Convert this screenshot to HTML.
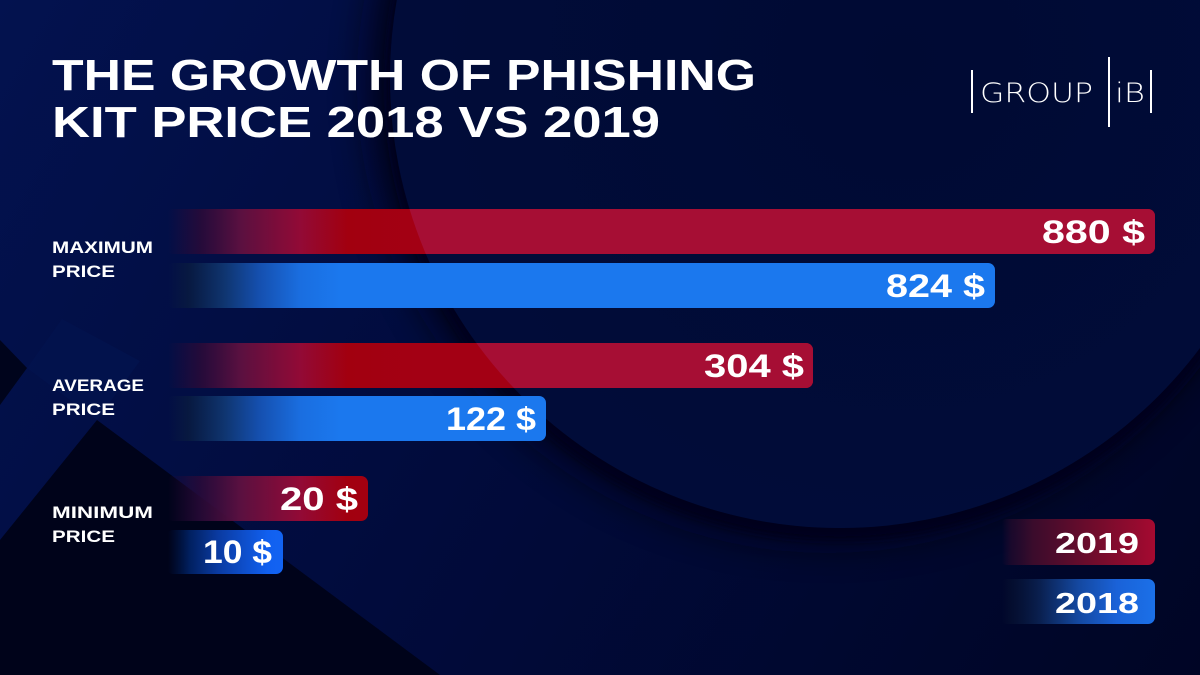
<!DOCTYPE html>
<html>
<head>
<meta charset="utf-8">
<style>
  html, body { margin: 0; padding: 0; background: #010a38; }
  body { width: 1200px; height: 675px; overflow: hidden; }
  svg { display: block; }
  .t { font-family: "Liberation Sans", "DejaVu Sans", sans-serif; font-weight: bold; fill: #ffffff; }
  .logo { font-family: "DejaVu Sans", "Liberation Sans", sans-serif; font-weight: 200; fill: #ffffff; }
</style>
</head>
<body>
<svg width="1200" height="675" viewBox="0 0 1200 675" xmlns="http://www.w3.org/2000/svg">
  <defs>
    <linearGradient id="bg" gradientUnits="userSpaceOnUse" x1="0" y1="0" x2="1200" y2="675">
      <stop offset="0" stop-color="#03124f"/>
      <stop offset="0.45" stop-color="#010b3c"/>
      <stop offset="1" stop-color="#000525"/>
    </linearGradient>
    <radialGradient id="cg" gradientUnits="userSpaceOnUse" cx="900" cy="60" r="470">
      <stop offset="0" stop-color="#000a33"/>
      <stop offset="1" stop-color="#010c39"/>
    </radialGradient>
    <filter id="b20" x="-30%" y="-30%" width="160%" height="160%">
      <feGaussianBlur stdDeviation="20"/>
    </filter>
    <filter id="b4" x="-10%" y="-10%" width="120%" height="120%">
      <feGaussianBlur stdDeviation="4"/>
    </filter>
    <clipPath id="circ"><circle cx="840" cy="78" r="450"/></clipPath>

    <linearGradient id="red" gradientUnits="userSpaceOnUse" x1="168" y1="0" x2="420" y2="0">
      <stop offset="0" stop-color="#2a0a38" stop-opacity="0"/>
      <stop offset="0.127" stop-color="#2a0a38" stop-opacity="0.85"/>
      <stop offset="0.286" stop-color="#5a1040"/>
      <stop offset="0.524" stop-color="#920a36"/>
      <stop offset="0.714" stop-color="#a2000f"/>
      <stop offset="1" stop-color="#a30014"/>
    </linearGradient>
    <linearGradient id="blue" gradientUnits="userSpaceOnUse" x1="168" y1="0" x2="340" y2="0">
      <stop offset="0" stop-color="#0a1a40" stop-opacity="0"/>
      <stop offset="0.12" stop-color="#081a40" stop-opacity="0.9"/>
      <stop offset="0.33" stop-color="#0f3570"/>
      <stop offset="0.535" stop-color="#1550b0"/>
      <stop offset="0.77" stop-color="#1a6ee0"/>
      <stop offset="1" stop-color="#1b78ee"/>
    </linearGradient>
    <linearGradient id="blueMin" gradientUnits="userSpaceOnUse" x1="168" y1="0" x2="283" y2="0">
      <stop offset="0" stop-color="#001a50" stop-opacity="0"/>
      <stop offset="0.19" stop-color="#012060"/>
      <stop offset="0.43" stop-color="#0a3aa0"/>
      <stop offset="0.87" stop-color="#1160f0"/>
      <stop offset="1" stop-color="#1263f2"/>
    </linearGradient>
    <linearGradient id="legRed" gradientUnits="userSpaceOnUse" x1="1002" y1="0" x2="1155" y2="0">
      <stop offset="0" stop-color="#2a0a30" stop-opacity="0"/>
      <stop offset="0.06" stop-color="#250a2c" stop-opacity="0.7"/>
      <stop offset="0.2" stop-color="#3a0c2c"/>
      <stop offset="0.6" stop-color="#700c2c"/>
      <stop offset="1" stop-color="#a50a30"/>
    </linearGradient>
    <linearGradient id="legBlue" gradientUnits="userSpaceOnUse" x1="1002" y1="0" x2="1155" y2="0">
      <stop offset="0" stop-color="#061030" stop-opacity="0"/>
      <stop offset="0.06" stop-color="#061030" stop-opacity="0.7"/>
      <stop offset="0.25" stop-color="#0a2050"/>
      <stop offset="0.5" stop-color="#1448a0"/>
      <stop offset="0.75" stop-color="#1a62d8"/>
      <stop offset="1" stop-color="#1b70e8"/>
    </linearGradient>
  </defs>

  <!-- background -->
  <rect x="0" y="0" width="1200" height="675" fill="url(#bg)"/>

  <!-- left decorative shapes -->
  <polygon points="62,319 140,361 97,420 27,368" fill="#031450" opacity="0.6"/>
  <polygon points="0,340 27,368 0,405" fill="#00041c"/>
  <polygon points="97,420 0,540 0,675 440,675" fill="#00031a"/>

  <!-- circle shadows -->
  <circle cx="828" cy="82" r="458" fill="#000215" filter="url(#b20)" opacity="0.9"/>
  <circle cx="840" cy="88" r="452" fill="#00041c" filter="url(#b4)"/>
  <!-- circle -->
  <circle cx="840" cy="78" r="450" fill="url(#cg)"/>

  <!-- title -->
  <text class="t" x="52" y="90" font-size="44" textLength="704" lengthAdjust="spacingAndGlyphs">THE GROWTH OF PHISHING</text>
  <text class="t" x="52" y="137" font-size="44" textLength="608" lengthAdjust="spacingAndGlyphs">KIT PRICE 2018 VS 2019</text>

  <!-- logo -->
  <rect x="971" y="70" width="2" height="43" fill="#ffffff"/>
  <rect x="1108" y="57" width="2" height="70" fill="#ffffff"/>
  <rect x="1150" y="70" width="2" height="43" fill="#ffffff"/>
  <text class="logo" x="980" y="102" font-size="27" textLength="113" lengthAdjust="spacingAndGlyphs">GROUP</text>
  <text class="logo" x="1115" y="102" font-size="27" textLength="30" lengthAdjust="spacingAndGlyphs">iB</text>

  <!-- category labels -->
  <text class="t" x="52" y="253" font-size="17" textLength="101" lengthAdjust="spacingAndGlyphs">MAXIMUM</text>
  <text class="t" x="52" y="277" font-size="17" textLength="63" lengthAdjust="spacingAndGlyphs">PRICE</text>
  <text class="t" x="52" y="391" font-size="17" textLength="92" lengthAdjust="spacingAndGlyphs">AVERAGE</text>
  <text class="t" x="52" y="415" font-size="17" textLength="63" lengthAdjust="spacingAndGlyphs">PRICE</text>
  <text class="t" x="52" y="518" font-size="17" textLength="101" lengthAdjust="spacingAndGlyphs">MINIMUM</text>
  <text class="t" x="52" y="542" font-size="17" textLength="63" lengthAdjust="spacingAndGlyphs">PRICE</text>

  <!-- bars -->
  <rect x="166" y="209" width="989" height="45" rx="7" fill="url(#red)"/>
  <rect x="166" y="209" width="989" height="45" rx="7" fill="#a60e34" clip-path="url(#circ)"/>
  <rect x="166" y="263" width="829" height="45" rx="7" fill="url(#blue)"/>

  <rect x="166" y="343" width="647" height="45" rx="7" fill="url(#red)"/>
  <rect x="166" y="343" width="647" height="45" rx="7" fill="#a60e34" clip-path="url(#circ)"/>
  <rect x="166" y="396" width="380" height="45" rx="7" fill="url(#blue)"/>

  <rect x="166" y="476" width="202" height="45" rx="7" fill="url(#red)"/>
  <rect x="166" y="530" width="117" height="44" rx="7" fill="url(#blueMin)"/>

  <!-- values -->
  <text class="t" x="1042" y="243" font-size="32" textLength="103" lengthAdjust="spacingAndGlyphs">880 $</text>
  <text class="t" x="886" y="297" font-size="32" textLength="99" lengthAdjust="spacingAndGlyphs">824 $</text>
  <text class="t" x="704" y="377" font-size="32" textLength="100" lengthAdjust="spacingAndGlyphs">304 $</text>
  <text class="t" x="446" y="430" font-size="32" textLength="90" lengthAdjust="spacingAndGlyphs">122 $</text>
  <text class="t" x="280" y="510" font-size="32" textLength="78" lengthAdjust="spacingAndGlyphs">20 $</text>
  <text class="t" x="203" y="563" font-size="32" textLength="69" lengthAdjust="spacingAndGlyphs">10 $</text>

  <!-- legend -->
  <rect x="1000" y="519" width="155" height="46" rx="7" fill="url(#legRed)"/>
  <rect x="1000" y="579" width="155" height="45" rx="7" fill="url(#legBlue)"/>
  <text class="t" x="1055" y="553" font-size="29" textLength="84" lengthAdjust="spacingAndGlyphs">2019</text>
  <text class="t" x="1055" y="613" font-size="29" textLength="84" lengthAdjust="spacingAndGlyphs">2018</text>
</svg>
</body>
</html>
